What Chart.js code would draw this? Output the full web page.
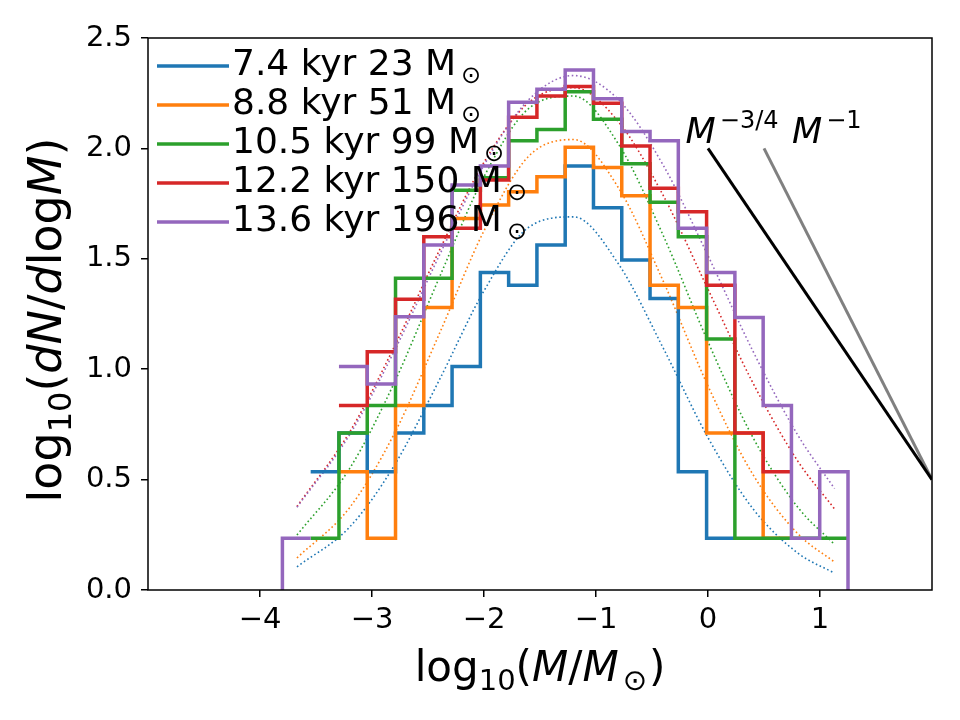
<!DOCTYPE html>
<html>
<head>
<meta charset="utf-8">
<script src="https://cdn.jsdelivr.net/npm/chart.js@4.4.1/dist/chart.umd.min.js"></script>
<style>
  html, body { margin: 0; padding: 0; background: #fff; }
  canvas { display: block; }
</style>
</head>
<body>
<canvas id="chart" width="960" height="720"></canvas>
<script>
// bin edges in log10(M/Msun); first and last bins lie outside the plotted histogram
const binEdges = [-4.0525, -3.8, -3.5475, -3.295, -3.0425, -2.79, -2.5375, -2.285, -2.0325,
  -1.78, -1.5275, -1.275, -1.0225, -0.77, -0.5175, -0.265, -0.0125, 0.24, 0.4925,
  0.745, 0.9975, 1.25, 1.5025];

// log10(dN/dlogM) per bin, null = empty bin, -1 = below the plotted range
const hist74 = [null, null, 0.535, 0.711, 0.535, 0.711, 0.836, 1.012, 1.438, 1.38, 1.562,
  1.92, 1.731, 1.495, 1.32, 0.535, 0.234, null, null, null, null, null];
const hist88 = [null, null, null, 0.535, 0.234, 0.836, 1.279, 1.683, 1.744, 1.804, 1.872,
  2.005, 1.913, 1.785, 1.38, 1.28, 0.711, 0.711, 0.234, null, null, null];
const hist105 = [null, null, 0.234, 0.711, 0.836, 1.412, 1.412, 1.81, 1.867, 2.035, 2.086,
  2.257, 2.132, 1.93, 1.756, 1.6, 1.137, 0.234, 0.234, 0.234, 0.234, null];
const hist122 = [null, null, null, 0.836, 1.079, 1.317, 1.6, 1.638, 1.857, 2.141, 2.237,
  2.28, 2.205, 2.011, 1.82, 1.713, 1.38, 0.711, 0.535, null, null, null];
const hist136 = [-1, 0.234, null, 1.012, 0.933, 1.238, 1.562, 1.834, 1.92, 2.209, 2.268,
  2.355, 2.225, 2.076, 2.035, 1.638, 1.438, 1.234, 0.836, 0.234, 0.535, -1];

// dotted fits
const fitX = [-3.67, -3.2, -2.8, -2.4, -2.0, -1.6, -1.2, -0.8, -0.4, 0.0, 0.4, 0.8, 1.13];
const fit74 = [0.105, 0.285, 0.565, 0.950, 1.355, 1.643, 1.690, 1.477, 1.096, 0.690, 0.369, 0.168, 0.076];
const fit88 = [0.145, 0.373, 0.709, 1.159, 1.627, 1.965, 2.040, 1.822, 1.399, 0.924, 0.524, 0.256, 0.126];
const fit105 = [0.249, 0.550, 0.940, 1.414, 1.872, 2.181, 2.237, 2.020, 1.606, 1.124, 0.692, 0.376, 0.206];
const fit122 = [0.378, 0.715, 1.103, 1.537, 1.937, 2.208, 2.275, 2.121, 1.787, 1.362, 0.939, 0.585, 0.367];
const fit136 = [0.375, 0.703, 1.083, 1.514, 1.924, 2.221, 2.330, 2.221, 1.924, 1.514, 1.083, 0.703, 0.459];

// reference slopes
const slopeX34 = [0, 2];
const slopeY34 = [2.0, 0.5];
const slopeX1 = [0.5, 2];
const slopeY1 = [2.0, 0.5];

const ages = ['7.4', '8.8', '10.5', '12.2', '13.6'];
const masses = ['23', '51', '99', '150', '196'];
const colors = ['#1f77b4', '#ff7f0e', '#2ca02c', '#d62728', '#9467bd'];

const xTickValues = [-4, -3, -2, -1, 0, 1];

const FONT = '"DejaVu Sans", sans-serif';

function stepPoints(vals) {
  const pts = [];
  vals.forEach((v, i) => {
    if (v === null) {
      pts.push({ x: (binEdges[i] + binEdges[i + 1]) / 2, y: null });
    } else {
      pts.push({ x: binEdges[i], y: v }, { x: binEdges[i + 1], y: v });
    }
  });
  return pts;
}

function xyPoints(xs, ys) {
  return xs.map((x, i) => ({ x: x, y: ys[i] }));
}

const hists = [hist74, hist88, hist105, hist122, hist136];
const fits = [fit74, fit88, fit105, fit122, fit136];

const datasets = [];
hists.forEach((h, i) => {
  datasets.push({
    label: ages[i] + ' kyr ' + masses[i] + ' M',
    data: stepPoints(h),
    borderColor: colors[i],
    borderWidth: 3.5,
    pointRadius: 0,
    tension: 0,
    spanGaps: false,
    order: 10 - i
  });
});
fits.forEach((f, i) => {
  datasets.push({
    data: xyPoints(fitX, f),
    borderColor: colors[i],
    borderWidth: 1.6,
    borderDash: [1.6, 2.6],
    pointRadius: 0,
    cubicInterpolationMode: 'monotone',
    order: 30 - i
  });
});
datasets.push({
  data: xyPoints(slopeX34, slopeY34),
  borderColor: '#000000',
  borderWidth: 3,
  pointRadius: 0,
  order: 5
});
datasets.push({
  data: xyPoints(slopeX1, slopeY1),
  borderColor: '#808080',
  borderWidth: 3,
  pointRadius: 0,
  order: 6
});

// draws a run of text pieces with different fonts / offsets
function drawRich(ctx, segs, x, y, align) {
  let total = 0;
  segs.forEach(s => {
    ctx.font = s.f;
    s.w = ctx.measureText(s.t).width + (s.dx || 0);
    total += s.w;
  });
  let cx = align === 'center' ? x - total / 2 : x;
  segs.forEach(s => {
    ctx.font = s.f;
    ctx.fillText(s.t, cx + (s.dx || 0), y + (s.dy || 0));
    cx += s.w;
  });
}

const framePlugin = {
  id: 'frame',
  afterDatasetsDraw(chart) {
    const { ctx, chartArea: a } = chart;
    ctx.save();
    ctx.strokeStyle = '#000';
    ctx.lineWidth = 1.5;
    ctx.strokeRect(a.left, a.top, a.right - a.left, a.bottom - a.top);
    ctx.restore();
  }
};

const textPlugin = {
  id: 'texts',
  afterDraw(chart) {
    const { ctx, chartArea: a, scales } = chart;
    ctx.save();
    ctx.fillStyle = '#000';
    ctx.textBaseline = 'alphabetic';
    ctx.textAlign = 'left';

    // x axis title
    const N = '42px ' + FONT, I = 'italic 42px ' + FONT, S = '29px ' + FONT;
    drawRich(ctx, [
      { t: 'log', f: N }, { t: '10', f: S, dy: 9 }, { t: '(', f: N }, { t: 'M', f: I },
      { t: '/', f: N }, { t: 'M', f: I }, { t: '\u2299', f: S, dy: 9, dx: 4 }, { t: ')', f: N, dx: 2 }
    ], (a.left + a.right) / 2, 681, 'center');

    // y axis title
    const N2 = '46px ' + FONT, I2 = 'italic 46px ' + FONT, S2 = '32px ' + FONT;
    ctx.save();
    ctx.translate(61, (a.top + a.bottom) / 2 + 6);
    ctx.rotate(-Math.PI / 2);
    drawRich(ctx, [
      { t: 'log', f: N2 }, { t: '10', f: S2, dy: 10 }, { t: '(', f: N2 }, { t: 'dN', f: I2 },
      { t: '/', f: N2 }, { t: 'd', f: I2 }, { t: 'log', f: N2 }, { t: 'M', f: I2 }, { t: ')', f: N2 }
    ], 0, 0, 'center');
    ctx.restore();

    // slope labels
    const px = v => scales.x.getPixelForValue(v);
    const py = v => scales.y.getPixelForValue(v);
    const MI = 'italic 35px ' + FONT, SUP = '24px ' + FONT;
    drawRich(ctx, [{ t: 'M', f: MI }, { t: '\u22123/4', f: SUP, dy: -15, dx: 4 }], px(-0.2), py(2.023), 'left');
    drawRich(ctx, [{ t: 'M', f: MI }, { t: '\u22121', f: SUP, dy: -15, dx: 4 }], px(0.75), py(2.023), 'left');

    // legend
    const rowY = [66, 105, 144, 183, 222];
    ages.forEach((age, i) => {
      const y = rowY[i];
      ctx.strokeStyle = colors[i];
      ctx.lineWidth = 3.5;
      ctx.beginPath();
      ctx.moveTo(157, y);
      ctx.lineTo(229, y);
      ctx.stroke();
      ctx.textBaseline = 'middle';
      ctx.font = '36px ' + FONT;
      const txt = age + ' kyr ' + masses[i] + ' M';
      ctx.fillText(txt, 232, y);
      const w = ctx.measureText(txt).width;
      ctx.font = '24px ' + FONT;
      ctx.fillText('\u2299', 232 + w + 5, y + 11);
    });
    ctx.restore();
  }
};

new Chart(document.getElementById('chart').getContext('2d'), {
  type: 'line',
  data: { datasets: datasets },
  options: {
    responsive: false,
    animation: false,
    layout: { padding: { top: 38, right: 28, left: 0, bottom: 0 } },
    plugins: { legend: { display: false }, tooltip: { enabled: false } },
    scales: {
      x: {
        type: 'linear',
        min: -5,
        max: 2,
        afterFit: s => { s.height = 130; },
        afterBuildTicks: s => { s.ticks = xTickValues.map(v => ({ value: v })); },
        border: { display: false },
        grid: { display: true, drawOnChartArea: false, drawTicks: true, tickLength: 7, color: '#000', lineWidth: 1.5 },
        ticks: {
          color: '#000',
          font: { family: 'DejaVu Sans', size: 29 },
          padding: 6,
          maxRotation: 0,
          callback: v => (v < 0 ? '\u2212' + Math.abs(v) : String(v))
        }
      },
      y: {
        type: 'linear',
        min: 0,
        max: 2.5,
        afterFit: s => { s.width = 148; },
        border: { display: false },
        grid: { display: true, drawOnChartArea: false, drawTicks: true, tickLength: 7, color: '#000', lineWidth: 1.5 },
        ticks: {
          color: '#000',
          stepSize: 0.5,
          font: { family: 'DejaVu Sans', size: 29 },
          padding: 9,
          callback: v => v.toFixed(1)
        }
      }
    }
  },
  plugins: [framePlugin, textPlugin]
});
</script>
</body>
</html>
